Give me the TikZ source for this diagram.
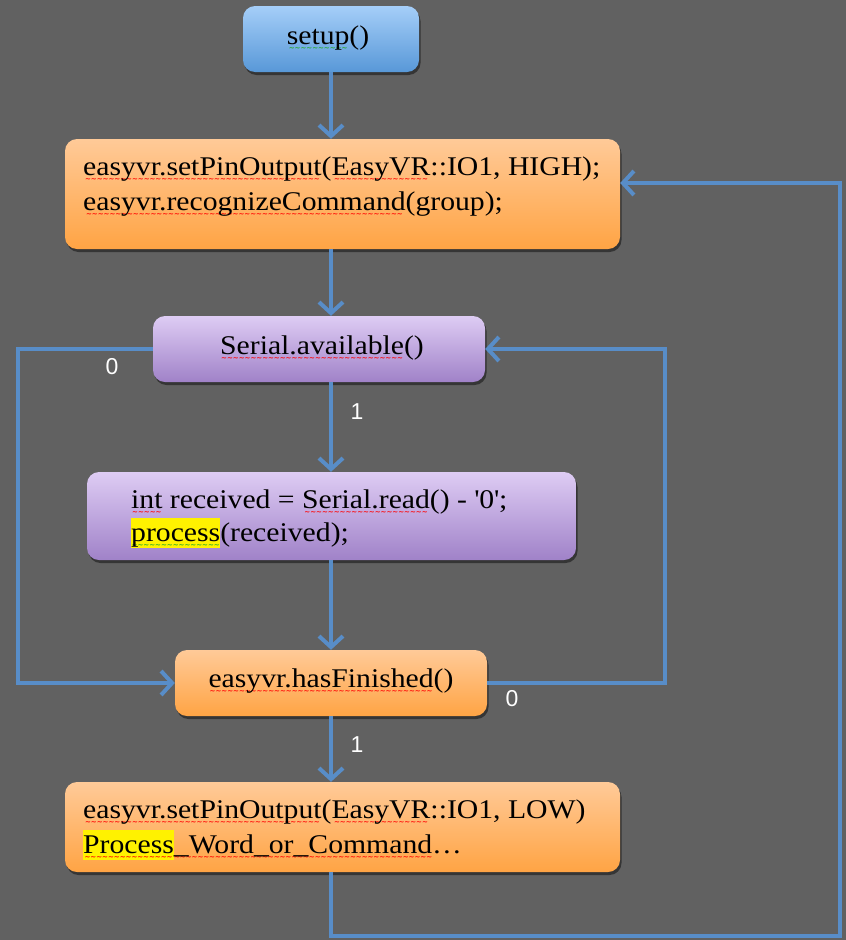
\documentclass[tikz,border=0pt]{standalone}
\usepackage{fontspec}
\setmainfont[FakeStretch=1.1]{Liberation Serif}
\newfontfamily\lblfont{Liberation Sans}
\newfontfamily\wavefont{DejaVu Sans Bold}
\usetikzlibrary{arrows.meta,shadows}
\definecolor{bgc}{RGB}{97,97,97}
\definecolor{connc}{RGB}{88,141,200}
\definecolor{bluetop}{RGB}{165,206,248}
\definecolor{bluebot}{RGB}{88,152,216}
\definecolor{orgtop}{RGB}{255,202,152}
\definecolor{orgbot}{RGB}{255,164,68}
\definecolor{purtop}{RGB}{222,204,244}
\definecolor{purbot}{RGB}{160,130,200}
\definecolor{sqgreen}{RGB}{40,170,40}
\newsavebox\sqbox
\newcommand\sqline[2]{\sbox\sqbox{#2}\rlap{\textcolor{#1}{\raisebox{-6.5pt}[0pt][0pt]{\hbox to \wd\sqbox{\wavefont\fontsize{7pt}{7pt}\selectfont\cleaders\hbox{\char"7E}\hfil}}}}\usebox\sqbox}
\newcommand\rsq[1]{\sqline{red}{#1}}
\newcommand\gsq[1]{\sqline{sqgreen}{#1}}
\newcommand\hlite[1]{{\setlength{\fboxsep}{0pt}\colorbox{yellow}{\rule[-0.27em]{0pt}{1.12em}#1}}}
\tikzset{
  boxbase/.style={rounded corners=12pt, inner sep=0pt,
    drop shadow={shadow xshift=1.5pt, shadow yshift=-3pt, opacity=0.45, fill=black}},
  bluebox/.style={boxbase, top color=bluetop, bottom color=bluebot},
  orgbox/.style={boxbase, top color=orgtop, bottom color=orgbot},
  purbox/.style={boxbase, top color=purtop, bottom color=purbot},
  txt/.style={inner sep=0pt, text=black, font=\fontsize{27pt}{33pt}\selectfont},
  conn/.style={draw=connc, line width=4pt, line join=miter},
  arr/.style={conn, -{Straight Barb[length=11pt, width=24pt]}},
  lbl/.style={text=white, font=\lblfont\fontsize{23pt}{27pt}\selectfont, inner sep=0pt}
}
\begin{document}
\begin{tikzpicture}[x=1pt, y=-1pt]
\fill[bgc] (0,0) rectangle (846,940);
\useasboundingbox (0,0) rectangle (846,940);

% boxes
\node[bluebox, minimum width=176pt, minimum height=66pt] (setup) at (331,39) {};
\node[orgbox, minimum width=555pt, minimum height=110pt] (b2) at (342.5,194) {};
\node[purbox, minimum width=332pt, minimum height=66pt] (serial) at (319,349) {};
\node[purbox, minimum width=489pt, minimum height=88pt] (rd) at (331.5,516) {};
\node[orgbox, minimum width=312pt, minimum height=66pt] (fin) at (331,683) {};
\node[orgbox, minimum width=555pt, minimum height=90pt] (last) at (342.5,827) {};

% texts
\node[txt, anchor=base] (tsetup) at (328,44) {\gsq{setup}()};
\node[txt, anchor=base west] (t2a) at (83,175) {\rsq{easyvr.setPinOutput}(\rsq{EasyVR}::IO1, HIGH);};
\node[txt, anchor=base west] (t2b) at (83,210) {\rsq{easyvr.recognizeCommand}(group);};
\node[txt, anchor=base] (tserial) at (322,354) {\rsq{Serial.available}()};
\node[txt, anchor=base west] (trda) at (131,508) {\rsq{int} received = \rsq{Serial.read}() - \textquotesingle0\textquotesingle;};
\node[txt, anchor=base west] (trdb) at (131,541) {\hlite{\gsq{process}}(received);};
\node[txt, anchor=base] (tfin) at (331,687) {\rsq{easyvr.hasFinished}()};
\node[txt, anchor=base west] (tla) at (83,818) {\rsq{easyvr.setPinOutput}(\rsq{EasyVR}::IO1, LOW)};
\node[txt, anchor=base west] (tlb) at (83,853) {\hlite{\rsq{Process}}\rsq{\_Word\_or\_Command}…};

% helper coordinates
\coordinate (cL) at (18,683);
\coordinate (cR) at (665,520);
\coordinate (cB) at (840,936);

% straight arrows
\draw[arr] (setup.south) -- (setup.south |- b2.north);
\draw[arr] (setup.south |- b2.south) -- (setup.south |- serial.north);
\draw[arr] (setup.south |- serial.south) -- (setup.south |- rd.north);
\draw[arr] (setup.south |- rd.south) -- (setup.south |- fin.north);
\draw[arr] (setup.south |- fin.south) -- (setup.south |- last.north);

% loops
\draw[arr] (serial.west) -| (cL) -- (fin.west);
\draw[arr] (fin.east) -| (cR) |- (serial.east);
\draw[arr] (setup.south |- last.south) |- (cB) |- ([yshift=11pt]b2.east);

% labels
\node[lbl] (l0a) at (112,367) {0};
\node[lbl] (l1a) at (357,412) {1};
\node[lbl] (l0b) at (512,699) {0};
\node[lbl] (l1b) at (357,745) {1};
\end{tikzpicture}
\end{document}
